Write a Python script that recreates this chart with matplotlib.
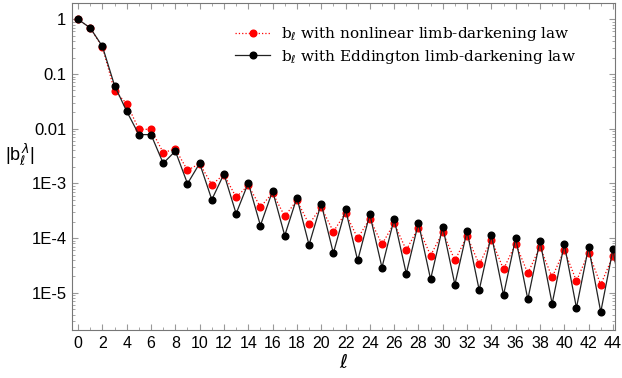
import numpy as np
import matplotlib
matplotlib.use("Agg")
import matplotlib.pyplot as plt
from matplotlib.ticker import FixedLocator, LogLocator, NullFormatter

ell = list(range(0, 46))

b_nonlinear = [1.0, 0.695, 0.31, 0.049, 0.0288, 0.00975, 0.00975, 0.00366, 0.00426, 0.00174,
               0.0023, 0.00095, 0.00145, 0.00056, 0.00092, 0.00037, 0.00067, 0.00025, 0.00049, 0.000179,
               0.00037, 0.000131, 0.000289, 9.9e-5, 0.000227, 7.7e-5, 0.000187, 6.05e-5, 0.000156, 4.8e-5,
               0.000129, 3.9e-5, 0.000109, 3.3e-5, 9.4e-5, 2.7e-5, 7.9e-5, 2.27e-5, 6.9e-5, 1.92e-5,
               6.05e-5, 1.64e-5, 5.4e-5, 1.41e-5, 4.7e-5, 1.2e-5]

b_eddington = [1.0, 0.695, 0.32, 0.0614, 0.0208, 0.0078, 0.0078, 0.00233, 0.0039, 0.00099,
               0.00233, 0.000506, 0.00149, 0.00028, 0.00102, 0.00017, 0.00073, 0.000111, 0.00055, 7.5e-5,
               0.000427, 5.3e-5, 0.000336, 3.9e-5, 0.000272, 2.9e-5, 0.000224, 2.24e-5, 0.00019, 1.77e-5,
               0.00016, 1.41e-5, 0.000135, 1.12e-5, 0.000115, 9.1e-6, 0.0001, 7.6e-6, 8.9e-5, 6.3e-6,
               7.8e-5, 5.3e-6, 6.9e-5, 4.45e-6, 6.2e-5, 3.8e-6]

ytick_vals = [1, 0.1, 0.01, 1e-3, 1e-4, 1e-5]
ytick_labels = ["1", "0.1", "0.01", "1E-3", "1E-4", "1E-5"]
xtick_vals = list(range(0, 45, 2))

fig = plt.figure(figsize=(6.22, 3.78), dpi=100)
ax = fig.add_axes([0.1158, 0.127, 0.8729, 0.865])

ax.plot(ell, b_nonlinear, color="red", ls=":", lw=0.9, marker="o", ms=4.8,
        mec="red", mfc="red", label=r"b$_{\ell}$ with nonlinear limb-darkening law")
ax.plot(ell, b_eddington, color="#222222", ls="-", lw=0.9, marker="o", ms=4.8,
        mec="black", mfc="black", label=r"b$_{\ell}$ with Eddington limb-darkening law")

ax.set_yscale("log")
ax.set_xlim(-0.5, 44.17)
ax.set_ylim(10 ** -5.68, 10 ** 0.298)

ax.yaxis.set_major_locator(FixedLocator(ytick_vals))
ax.set_yticklabels(ytick_labels)
ax.yaxis.set_minor_locator(LogLocator(base=10, subs=np.arange(2, 10), numticks=20))
ax.yaxis.set_minor_formatter(NullFormatter())
ax.set_xticks(xtick_vals)
ax.set_xticks(range(1, 45, 2), minor=True)

for lab in ax.get_xticklabels():
    lab.set_family("Liberation Sans")
    lab.set_fontsize(11.5)
for lab in ax.get_yticklabels():
    lab.set_family("Liberation Sans")
    lab.set_fontsize(12)

ax.tick_params(which="both", direction="in", top=True, right=True, color="#999999")
ax.tick_params(which="major", length=4, width=0.8, pad=4)
ax.tick_params(which="minor", length=2, width=0.6)
for sp in ax.spines.values():
    sp.set_color("#777777")
    sp.set_linewidth(0.8)

ax.set_xlabel(r"$\ell$", fontsize=14, labelpad=2)
fig.text(0.008, 0.59, r"|b$_{\ell}^{\,\lambda}$|", fontsize=13, family="Liberation Sans",
         ha="left", va="center")

leg = ax.legend(loc="upper left", bbox_to_anchor=(0.275, 0.975), frameon=False,
                handlelength=2.3, handletextpad=0.7, labelspacing=0.3,
                prop={"family": "DejaVu Serif", "size": 11})

fig.savefig("out.png", dpi=100)
